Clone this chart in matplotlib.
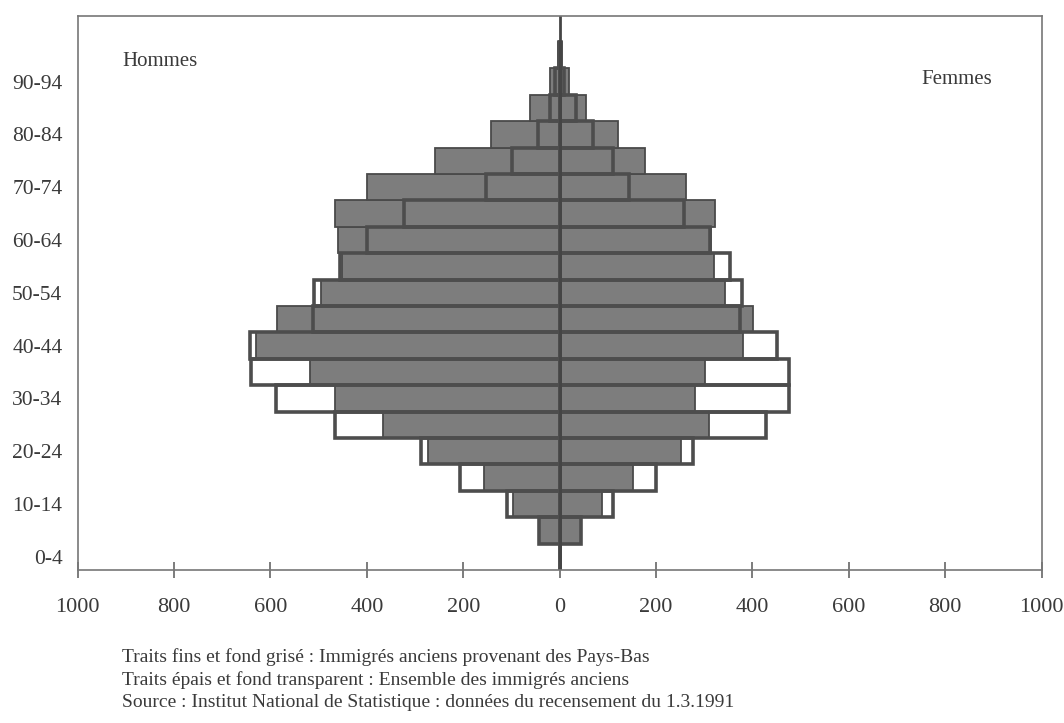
import numpy as np
import matplotlib
matplotlib.use("Agg")
import matplotlib.pyplot as plt

# age groups (bottom to top)
ages = ["0-4", "5-9", "10-14", "15-19", "20-24", "25-29", "30-34", "35-39",
        "40-44", "45-49", "50-54", "55-59", "60-64", "65-69", "70-74",
        "75-79", "80-84", "85-89", "90-94", "95-99"]

# grey bars : immigres anciens provenant des Pays-Bas
hommes_nl = [0, 42, 96, 158, 274, 366, 466, 518, 629, 586,
             495, 452, 459, 466, 400, 258, 143, 62, 20, 4]
femmes_nl = [0, 44, 88, 152, 252, 309, 281, 302, 381, 402,
             342, 320, 314, 322, 263, 178, 122, 54, 19, 4]

# thick outline : ensemble des immigres anciens
hommes_tot = [0, 43, 109, 206, 287, 467, 589, 641, 643, 511,
              510, 455, 400, 322, 153, 98, 45, 20, 10, 2]
femmes_tot = [0, 44, 110, 200, 277, 428, 476, 476, 450, 375,
              378, 354, 312, 257, 144, 110, 70, 34, 10, 2]

xticks = [-1000, -800, -600, -400, -200, 0, 200, 400, 600, 800, 1000]
xlabels = ["1000", "800", "600", "400", "200", "0", "200", "400", "600", "800", "1000"]

notes = ["Traits fins et fond grisé : Immigrés anciens provenant des Pays-Bas",
         "Traits épais et fond transparent : Ensemble des immigrés anciens",
         "Source : Institut National de Statistique : données du recensement du 1.3.1991"]

plt.rcParams['font.family'] = ['Liberation Serif', 'DejaVu Serif']
txt = '#3a3a3a'

fig = plt.figure(figsize=(10.64, 7.23), dpi=100)
ax = fig.add_axes([0.073, 0.2116, 0.906, 0.7667])

y = np.arange(len(ages))
grey = '#7d7d7d'
edge = '#4a4a4a'

# grey bars first
ax.barh(y, -np.array(hommes_nl), height=1.0, color=grey, edgecolor=edge, linewidth=1.3)
ax.barh(y, femmes_nl, height=1.0, color=grey, edgecolor=edge, linewidth=1.3)
# transparent thick bars on top
ax.barh(y, -np.array(hommes_tot), height=1.0, fill=False, edgecolor='#4d4d4d', linewidth=2.6)
ax.barh(y, femmes_tot, height=1.0, fill=False, edgecolor='#4d4d4d', linewidth=2.6)

ax.axvline(0, color='#454545', linewidth=2)

ax.set_xlim(-1000, 1000)
ax.set_ylim(-0.5, 20.5)

ax.set_xticks(xticks)
ax.set_xticklabels(xlabels)
ax.set_yticks(y[::2])
ax.set_yticklabels(ages[::2])

ax.tick_params(axis='x', direction='inout', length=11, width=1.2, color='#666666',
               pad=15, labelsize=16, labelcolor=txt)
ax.tick_params(axis='y', length=0, pad=11, labelsize=15.5, labelcolor=txt)

for s in ax.spines.values():
    s.set_color('#777777')
    s.set_linewidth(1.2)

ax.text(0.046, 0.9165, "Hommes", transform=ax.transAxes, fontsize=15,
        color=txt, va='center', ha='left')
ax.text(0.912, 0.884, "Femmes", transform=ax.transAxes, fontsize=15,
        color=txt, va='center', ha='center')

for i, line in enumerate(notes):
    fig.text(0.1147, 0.0913 - i * 0.0318, line, fontsize=14, color=txt,
             va='center', ha='left')

fig.savefig("out.png", dpi=100, facecolor='white')
